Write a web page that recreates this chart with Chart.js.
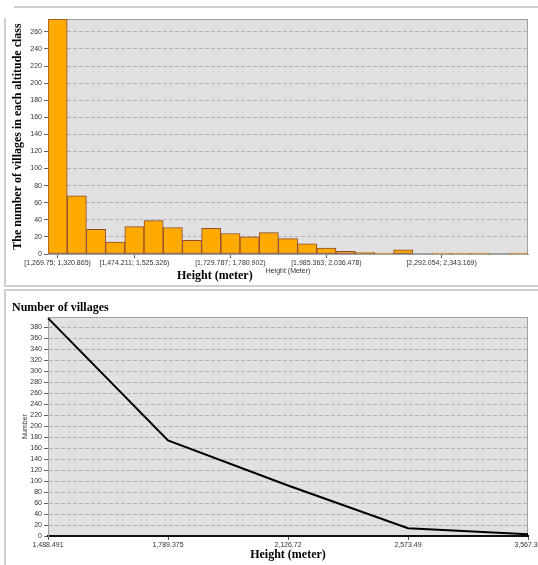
<!DOCTYPE html>
<html>
<head>
<meta charset="utf-8">
<script src="https://cdn.jsdelivr.net/npm/chart.js@4.4.1/dist/chart.umd.min.js"></script>
<style>
    body { margin: 0; background: #fff; width: 538px; height: 565px; position: relative; overflow: hidden; }
    .line { position: absolute; background: #cfcfcf; }
    .panel { position: absolute; left: 0; width: 538px; }
    .overlay { position: absolute; font: bold 12px "Liberation Serif", serif; color: #000; white-space: nowrap; }
</style>
</head>
<body>
<!-- panel frames -->
<div class="line" style="left:14px; top:6px; width:524px; height:2px;"></div>
<div class="line" style="left:4px; top:18px; width:2px; height:269px;"></div>
<div class="line" style="left:4px; top:285px; width:534px; height:2px;"></div>
<div class="line" style="left:4px; top:289px; width:534px; height:2px;"></div>
<div class="line" style="left:4px; top:289px; width:2px; height:276px;"></div>

<div class="panel" style="top:0; height:282px;"><canvas id="histChart"></canvas></div>
<div class="overlay" style="left:177px; top:268px;">Height (meter)</div>
<div class="panel" style="top:290px; height:275px;"><canvas id="lineChart"></canvas></div>

<script>
// Histogram: number of villages per altitude class
const binLabels = [
    '[1,269.75; 1,320.865)', '[1,320.865; 1,371.98)', '[1,371.98; 1,423.096)', '[1,423.096; 1,474.211)',
    '[1,474.211; 1,525.326)', '[1,525.326; 1,576.441)', '[1,576.441; 1,627.556)', '[1,627.556; 1,678.671)',
    '[1,678.671; 1,729.787)', '[1,729.787; 1,780.902)', '[1,780.902; 1,832.017)', '[1,832.017; 1,883.132)',
    '[1,883.132; 1,934.247)', '[1,934.247; 1,985.363)', '[1,985.363; 2,036.478)', '[2,036.478; 2,087.593)',
    '[2,087.593; 2,138.708)', '[2,138.708; 2,189.823)', '[2,189.823; 2,240.939)', '[2,240.939; 2,292.054)',
    '[2,292.054; 2,343.169)', '[2,343.169; 2,394.284)', '[2,394.284; 2,445.399)', '[2,445.399; 2,496.515)',
    '[2,496.515; 2,547.63)'
];
const shownBins = [0, 4, 9, 14, 20];
const binCounts = [275, 68, 29, 14, 32, 39, 31, 16, 30, 24, 20, 25, 18, 12, 7, 3, 2, 1, 5, 0, 1, 1, 1, 0, 1];

// Cumulative curve: number of villages above a height
const heightLabels = ['1,488.491', '1,789.375', '2,126.72', '2,573.49', '3,567.32'];
const villageCounts = [397, 174, 92, 14, 3];

const tickFont = { family: '"Liberation Sans", Arial, sans-serif', size: 7 };
const serifBold = { family: '"Liberation Serif", "Times New Roman", serif', size: 12, weight: 'bold' };

// grey plot background + frame, drawn before the axes
const plotBg = {
    id: 'plotBg',
    beforeDraw(chart) {
        const { ctx, chartArea: a } = chart;
        ctx.save();
        ctx.fillStyle = '#e1e1e1';
        ctx.fillRect(a.left, a.top, a.right - a.left, a.bottom - a.top);
        ctx.strokeStyle = '#a0a0a0';
        ctx.lineWidth = 1;
        ctx.strokeRect(a.left + 0.5, a.top + 0.5, a.right - a.left - 1, a.bottom - a.top - 1);
        ctx.restore();
    }
};

const dashedGrid = {
    color: '#b2b2b2',
    lineWidth: 1,
    tickLength: 4,
    tickColor: '#666',
    tickBorderDash: [],
    drawTicks: true
};

// keep the plot area fixed: no extra room for overhanging edge labels
const noEdgePad = (s) => { s.paddingLeft = 0; s.paddingRight = 0; };

new Chart(document.getElementById('histChart'), {
    type: 'bar',
    data: {
        labels: binLabels,
        datasets: [{
            data: binCounts,
            backgroundColor: '#ffaa00',
            borderColor: '#8e4a2a',
            borderWidth: 1,
            borderSkipped: false,
            categoryPercentage: 1,
            barPercentage: 1
        }]
    },
    plugins: [plotBg],
    options: {
        responsive: true,
        maintainAspectRatio: false,
        animation: false,
        layout: { padding: { top: 19, right: 10, left: 0, bottom: 0 } },
        plugins: { legend: { display: false }, tooltip: { enabled: false } },
        scales: {
            x: {
                offset: true,
                grid: { display: true, drawOnChartArea: false, offset: false, tickLength: 4, tickColor: '#555' },
                border: { color: '#a0a0a0' },
                ticks: {
                    font: tickFont, color: '#333', padding: 1,
                    autoSkip: false, maxRotation: 0,
                    callback: (v, i) => shownBins.includes(i) ? binLabels[i] : null
                },
                title: {
                    display: true, text: 'Height (Meter)',
                    font: tickFont, color: '#333', padding: { top: 0, bottom: 7 }
                },
                afterFit: (s) => { s.height = 28; noEdgePad(s); }
            },
            y: {
                min: 0, max: 275,
                grid: dashedGrid,
                border: { color: '#a0a0a0', dash: [4, 2] },
                ticks: { stepSize: 20, includeBounds: false, font: tickFont, color: '#333', padding: 2 },
                title: {
                    display: true, text: 'The number of villages in each altitude class',
                    font: serifBold, color: '#000', padding: { top: 11, bottom: 0 }
                },
                afterFit: (s) => { s.width = 48; }
            }
        }
    }
});

new Chart(document.getElementById('lineChart'), {
    type: 'line',
    data: {
        labels: heightLabels,
        datasets: [{
            data: villageCounts,
            borderColor: '#000',
            borderWidth: 2,
            pointRadius: 0,
            tension: 0,
            fill: false
        }]
    },
    plugins: [plotBg],
    options: {
        responsive: true,
        maintainAspectRatio: false,
        animation: false,
        layout: { padding: { top: 0, right: 10, left: 12, bottom: 0 } },
        plugins: {
            legend: { display: false },
            tooltip: { enabled: false },
            title: {
                display: true, text: 'Number of villages', align: 'start',
                font: serifBold, color: '#000', padding: { top: 11, bottom: 1.6 }
            }
        },
        scales: {
            x: {
                offset: false,
                grid: { display: true, drawOnChartArea: false, tickLength: 4, tickColor: '#555' },
                border: { color: '#111', width: 2 },
                ticks: { font: tickFont, color: '#333', padding: 1, autoSkip: false, maxRotation: 0 },
                title: {
                    display: true, text: 'Height (meter)',
                    font: serifBold, color: '#000', padding: { top: 0, bottom: 3 }
                },
                afterFit: (s) => { s.height = 29; noEdgePad(s); }
            },
            y: {
                min: 0, max: 399,
                grid: dashedGrid,
                border: { color: '#a0a0a0', dash: [4, 2] },
                ticks: { stepSize: 20, includeBounds: false, font: tickFont, color: '#333', padding: 2 },
                title: {
                    display: true, text: 'Number',
                    font: tickFont, color: '#333', padding: { top: 9, bottom: 0 }
                },
                afterFit: (s) => { s.width = 36; }
            }
        }
    }
});
</script>
</body>
</html>
